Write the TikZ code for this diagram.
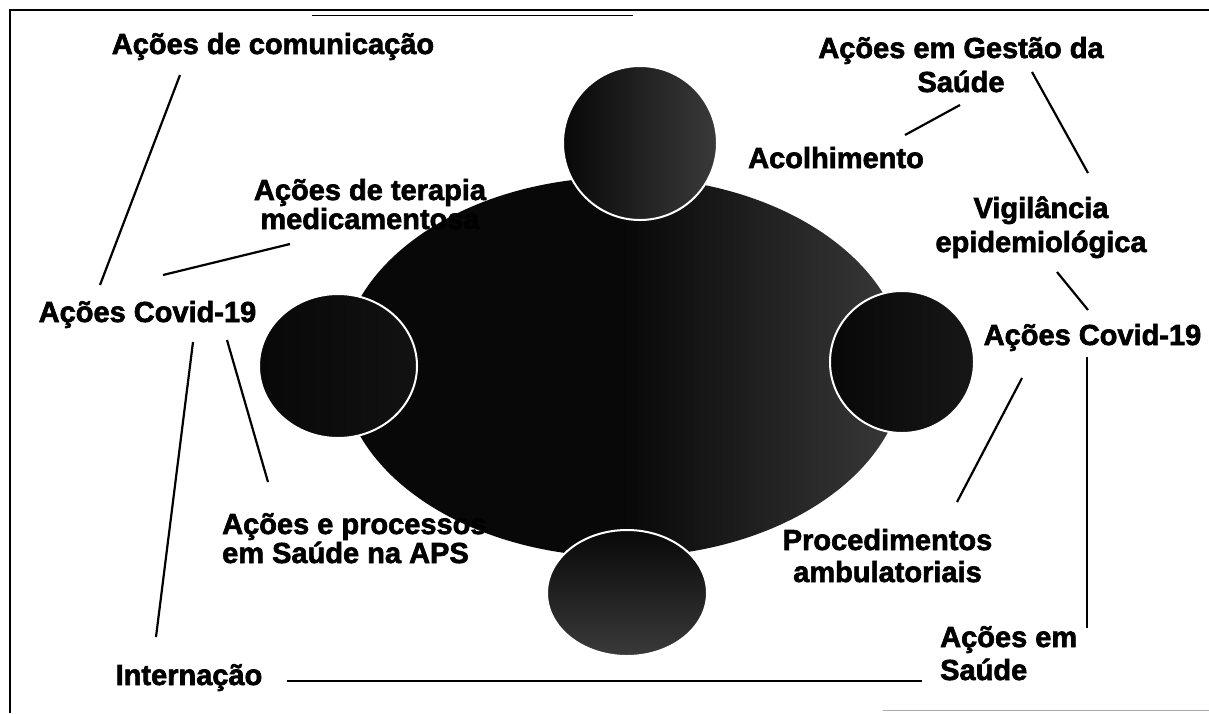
\documentclass[tikz,border=0pt]{standalone}
\usepackage{fontspec}
\setmainfont{Liberation Sans}[BoldFeatures={FakeBold=2.2}]
\definecolor{darkA}{RGB}{8,8,8}
\definecolor{darkB}{RGB}{58,58,58}
\definecolor{frameGray}{RGB}{170,170,170}
\begin{document}
\begin{tikzpicture}[x=1pt,y=-1pt,
  lbl/.style={font=\fontsize{29}{33}\selectfont\bfseries, inner sep=0pt, anchor=base, align=center},
  lblL/.style={lbl, align=left, anchor=base west},
  lead/.style={font=\fontsize{29}{#1}\selectfont\bfseries},
  conn/.style={line width=2.2pt, black},
  blob/.style={draw=white, line width=2pt}]
\useasboundingbox (0,0) rectangle (1209,713);
% frame
\draw[line width=2.5pt] (10,713) -- (10,10) -- (1209,10);
\draw[line width=1pt] (312,15) -- (633,15);
\draw[line width=1pt, frameGray] (883,710) -- (1209,710);
% big ellipse and circles
\shade[left color=darkA, right color=darkB, middle color=darkA] (623,367) ellipse [x radius=282, y radius=190];
\shade[blob, left color=darkA, right color=darkB] (640,143) ellipse [x radius=77, y radius=77];
\shade[blob, left color=darkA, right color=darkA!80!darkB] (338,366) ellipse [x radius=79, y radius=72];
\shade[blob, left color=darkA, right color=darkA!70!darkB] (902,362) ellipse [x radius=72, y radius=71];
\shade[blob, top color=darkA, bottom color=darkB] (627,593) ellipse [x radius=80, y radius=63];
% labels (multi-line nodes are placed by the baseline of their last line)
\node[lbl] (com) at (273,54) {Ações de comunicação};
\node[lbl, lead=34] (gest) at (961,92) {Ações em Gestão da\\Saúde};
\node[lbl] (acol) at (836,168) {Acolhimento};
\node[lbl, lead=29] (ter) at (370,229) {Ações de terapia\\medicamentosa};
\node[lbl] (covL) at (147.5,322) {Ações Covid-19};
\node[lbl, lead=34] (vig) at (1041,252) {Vigilância\\epidemiológica};
\node[lbl] (covR) at (1092.5,345) {Ações Covid-19};
\node[lblL, lead=29] (aps) at (222,563) {Ações e processos\\em Saúde na APS};
\node[lbl, lead=32] (proc) at (887.5,582) {Procedimentos\\ambulatoriais};
\node[lblL, lead=33] (saude) at (940,680) {Ações em\\Saúde};
\node[lbl] (intern) at (189,685) {Internação};
% connector end points
\coordinate (com-s) at (180,75);   \coordinate (covL-n) at (100,285);
\coordinate (ter-s) at (290,244);  \coordinate (covL-ne) at (163,275);
\coordinate (covL-s) at (193,342); \coordinate (intern-n) at (156,637);
\coordinate (covL-se) at (227,340);\coordinate (aps-n) at (268,482);
\coordinate (intern-e) at (287,681);\coordinate (saude-w) at (922,681);
\coordinate (covR-s) at (1087,357);\coordinate (saude-n) at (1087,628);
\coordinate (covR-sw) at (1022,378);\coordinate (proc-n) at (957,502);
\coordinate (gest-sw) at (960,105);\coordinate (acol-ne) at (905,135);
\coordinate (gest-se) at (1032,72); \coordinate (vig-n) at (1088,173);
\coordinate (vig-s) at (1057,272); \coordinate (covR-n) at (1088,310);
% connectors
\draw[conn] (com-s) -- (covL-n);
\draw[conn] (ter-s) -- (covL-ne);
\draw[conn] (covL-s) -- (intern-n);
\draw[conn] (covL-se) -- (aps-n);
\draw[conn] (intern-e) -- (saude-w);
\draw[conn] (covR-s) -- (saude-n);
\draw[conn] (covR-sw) -- (proc-n);
\draw[conn] (gest-sw) -- (acol-ne);
\draw[conn] (gest-se) -- (vig-n);
\draw[conn] (vig-s) -- (covR-n);
\end{tikzpicture}
\end{document}
